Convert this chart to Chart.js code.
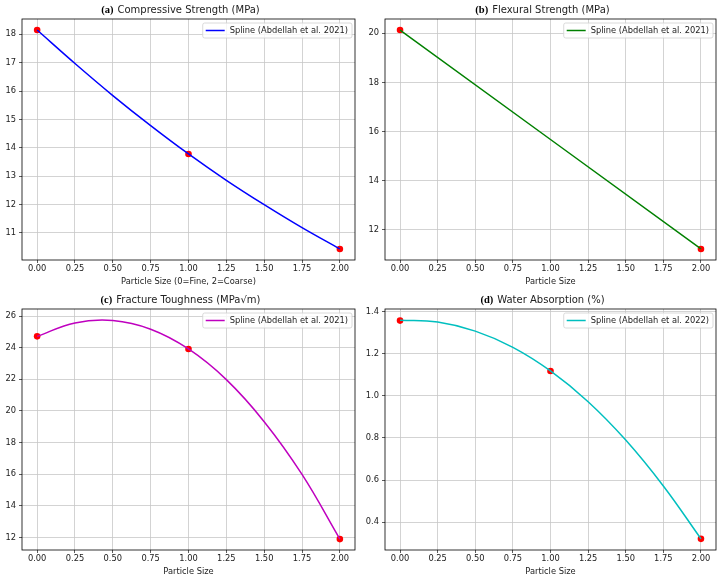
<!DOCTYPE html>
<html>
<head>
<meta charset="utf-8">
<script src="https://cdn.jsdelivr.net/npm/chart.js@4.4.0/dist/chart.umd.min.js"></script>
<style>
  html, body { margin: 0; padding: 0; background: #fff; }
  #wrap { position: relative; width: 725px; height: 580px; }
  canvas { position: absolute; }
</style>
</head>
<body>
<div id="wrap">
  <canvas id="cA" width="362" height="290" style="left:0;top:0"></canvas>
  <canvas id="cB" width="363" height="290" style="left:362px;top:0"></canvas>
  <canvas id="cC" width="362" height="290" style="left:0;top:290px"></canvas>
  <canvas id="cD" width="363" height="290" style="left:362px;top:290px"></canvas>
</div>
<script>
// ===== data =====
const xTicks = [0, 0.25, 0.5, 0.75, 1, 1.25, 1.5, 1.75, 2];
const ptX = [0, 1, 2];
const curveX = [0, 0.25, 0.5, 0.75, 1, 1.25, 1.5, 1.75, 2];

// (a) compressive strength
const compPts   = [18.15, 13.78, 10.43];
const compCurve = [18.15, 16.97, 15.84, 14.78, 13.78, 12.85, 11.99, 11.18, 10.43];
const compTicks = [11, 12, 13, 14, 15, 16, 17, 18];

// (b) flexural strength (straight line, two points)
const flexX     = [0, 2];
const flexPts   = [20.13, 11.23];
const flexCurve = [20.13, 11.23];
const flexTicks = [12, 14, 16, 18, 20];

// (c) fracture toughness
const fracPts   = [24.72, 23.92, 11.89];
const fracCurve = [24.72, 25.57, 25.72, 25.17, 23.92, 21.98, 19.32, 15.98, 11.89];
const fracTicks = [12, 14, 16, 18, 20, 22, 24, 26];

// (d) water absorption
const waterPts   = [1.357, 1.118, 0.321];
const waterCurve = [1.359, 1.350, 1.307, 1.230, 1.118, 0.972, 0.790, 0.572, 0.321];
const waterTicks = [0.4, 0.6, 0.8, 1.0, 1.2, 1.4];

const TXT = "#222";
const GRID = "#c8c8c8";
const FONT = { family: "DejaVu Sans", size: 8.3 };

function xy(xs, ys){ return xs.map((x, i) => ({ x, y: ys[i] })); }

// frame + title + legend box, drawn by hand like matplotlib
const deco = {
  id: "deco",
  afterDatasetsDraw(chart){
    const ctx = chart.ctx, a = chart.chartArea;
    ctx.save();
    ctx.strokeStyle = "#000";
    ctx.lineWidth = 0.8;
    ctx.strokeRect(a.left, a.top, a.right - a.left, a.bottom - a.top);
    ctx.restore();
  },
  afterDraw(chart, args, o){
    const ctx = chart.ctx, a = chart.chartArea;
    ctx.save();
    // title
    ctx.textBaseline = "middle";
    ctx.font = 'bold 10.5px "Liberation Serif"';
    const w1 = ctx.measureText(o.tag).width;
    ctx.font = '10px "DejaVu Sans"';
    const w2 = ctx.measureText(o.title).width;
    const gap = 4;
    const x0 = (a.left + a.right) / 2 - 8 - (w1 + gap + w2) / 2;
    ctx.fillStyle = "#000";
    ctx.font = 'bold 10.5px "Liberation Serif"';
    ctx.fillText(o.tag, x0, 10);
    ctx.fillStyle = TXT;
    ctx.font = '10px "DejaVu Sans"';
    ctx.fillText(o.title, x0 + w1 + gap, 10);

    // legend
    ctx.font = '8.3px "DejaVu Sans"';
    const tw = ctx.measureText(o.legend).width;
    const bw = 31 + tw, bh = 15;
    const bx = a.right - 3 - bw, by = a.top + 4;
    ctx.beginPath();
    ctx.roundRect(bx, by, bw, bh, 2);
    ctx.fillStyle = "rgba(255,255,255,0.8)";
    ctx.fill();
    ctx.strokeStyle = "#d0d0d0";
    ctx.lineWidth = 0.8;
    ctx.stroke();
    ctx.beginPath();
    ctx.moveTo(bx + 3, by + bh / 2);
    ctx.lineTo(bx + 22, by + bh / 2);
    ctx.strokeStyle = o.color;
    ctx.lineWidth = 1.5;
    ctx.stroke();
    ctx.fillStyle = TXT;
    ctx.textAlign = "left";
    ctx.fillText(o.legend, bx + 27, by + bh / 2 + 0.5);
    ctx.restore();
  }
};

function makePanel(id, cfg){
  return new Chart(document.getElementById(id), {
    type: "line",
    data: {
      datasets: [
        {
          label: cfg.legend,
          data: xy(cfg.curveX, cfg.curveY),
          borderColor: cfg.color,
          borderWidth: 1.5,
          pointRadius: 0,
          fill: false,
          tension: 0.4,
        },
        {
          type: "scatter",
          label: "points",
          data: xy(cfg.ptX || ptX, cfg.pts),
          pointRadius: 3.3,
          pointBackgroundColor: "#ff0000",
          pointBorderWidth: 0,
          showLine: false,
        }
      ]
    },
    options: {
      responsive: false,
      animation: false,
      events: [],
      layout: { padding: { top: 19, right: cfg.padRight, left: 0, bottom: 0 } },
      plugins: {
        legend: { display: false },
        tooltip: { enabled: false },
        deco: { tag: cfg.tag, title: cfg.title, legend: cfg.legend, color: cfg.color },
      },
      scales: {
        x: {
          type: "linear",
          min: -0.1, max: 2.1,
          afterBuildTicks: s => { s.ticks = xTicks.map(v => ({ value: v })); },
          afterFit: s => { s.height = 30; },
          ticks: { callback: v => v.toFixed(2), font: FONT, color: TXT, padding: 1, maxRotation: 0, autoSkip: false },
          grid: { color: GRID, lineWidth: 0.8, tickLength: 3, tickColor: "#333", tickWidth: 0.8 },
          border: { display: false },
          title: { display: true, text: cfg.xTitle, font: FONT, color: TXT, padding: { top: 0, bottom: 3 } },
        },
        y: {
          type: "linear",
          min: cfg.yMin, max: cfg.yMax,
          afterBuildTicks: s => { s.ticks = cfg.yTicks.map(v => ({ value: v })); },
          afterFit: s => { s.width = cfg.yWidth; },
          ticks: { callback: v => v.toFixed(cfg.dec), font: FONT, color: TXT, padding: 3, autoSkip: false },
          grid: { color: GRID, lineWidth: 0.8, tickLength: 3, tickColor: "#333", tickWidth: 0.8 },
          border: { display: false },
        }
      }
    },
    plugins: [deco]
  });
}

makePanel("cA", {
  tag: "(a)", title: "Compressive Strength (MPa)", legend: "Spline (Abdellah et al. 2021)",
  color: "#0000ff", curveX: curveX, curveY: compCurve, pts: compPts,
  yMin: 10.04, yMax: 18.54, yTicks: compTicks, dec: 0,
  xTitle: "Particle Size (0=Fine, 2=Coarse)", yWidth: 22, padRight: 7,
});
makePanel("cB", {
  tag: "(b)", title: "Flexural Strength (MPa)", legend: "Spline (Abdellah et al. 2021)",
  color: "#008000", curveX: flexX, curveY: flexCurve, pts: flexPts, ptX: flexX,
  yMin: 10.78, yMax: 20.58, yTicks: flexTicks, dec: 0,
  xTitle: "Particle Size", yWidth: 23, padRight: 9,
});
makePanel("cC", {
  tag: "(c)", title: "Fracture Toughness (MPa√m)", legend: "Spline (Abdellah et al. 2021)",
  color: "#bf00bf", curveX: curveX, curveY: fracCurve, pts: fracPts,
  yMin: 11.2, yMax: 26.45, yTicks: fracTicks, dec: 0,
  xTitle: "Particle Size", yWidth: 22, padRight: 7,
});
makePanel("cD", {
  tag: "(d)", title: "Water Absorption (%)", legend: "Spline (Abdellah et al. 2022)",
  color: "#00bfbf", curveX: curveX, curveY: waterCurve, pts: waterPts,
  yMin: 0.268, yMax: 1.412, yTicks: waterTicks, dec: 1,
  xTitle: "Particle Size", yWidth: 23, padRight: 9,
});
</script>
</body>
</html>
